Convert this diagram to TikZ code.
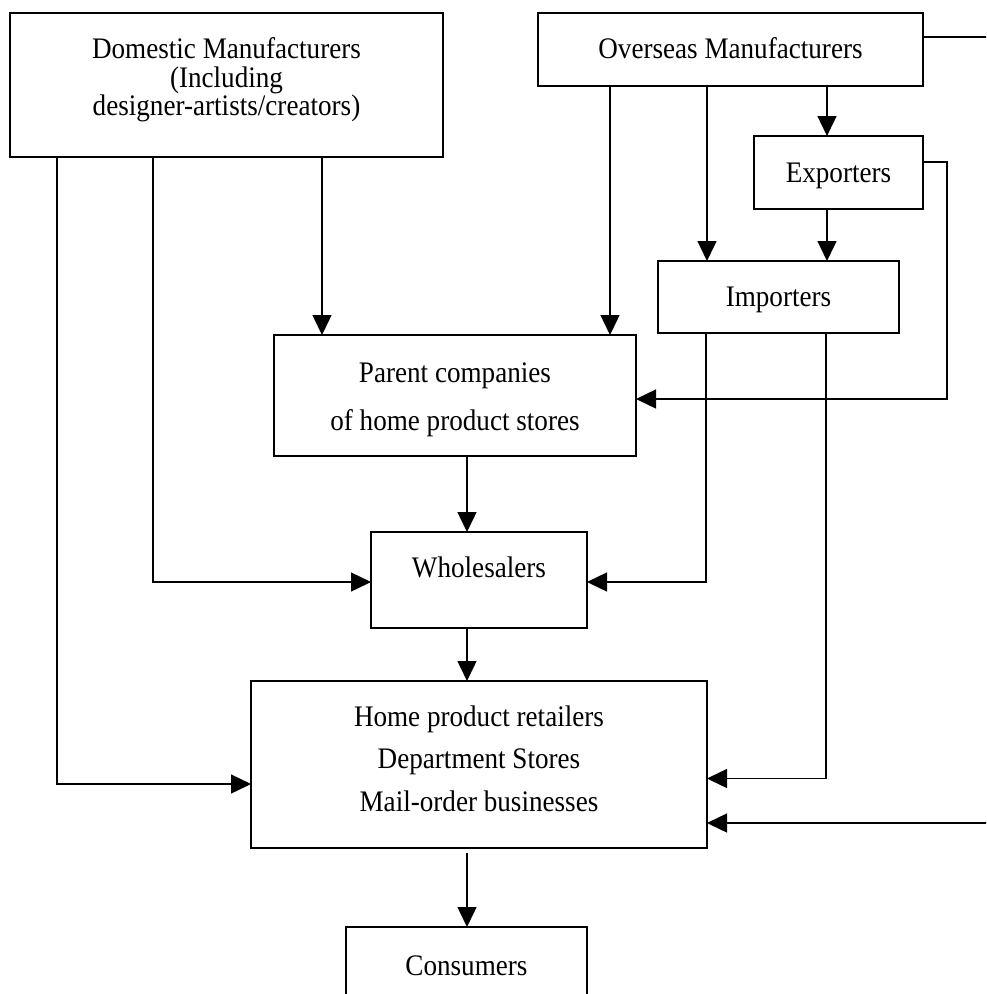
\documentclass[tikz,border=0pt]{standalone}
\usepackage{fontspec}
\setmainfont[FakeStretch=0.91]{Liberation Serif}
\usetikzlibrary{arrows.meta}
\begin{document}
\begin{tikzpicture}[x=1pt,y=-1pt,
  box/.style={draw, line width=1.8pt, inner sep=0pt, outer sep=0pt},
  txt/.style={anchor=base, inner sep=0pt, font=\fontsize{29.8}{29.8}\selectfont},
  arr/.style={line width=1.4pt, -{Triangle[length=20pt,width=19pt]}},
  ln/.style={line width=1.4pt}]
\useasboundingbox (0,0) rectangle (986,994);
\clip (0,0) rectangle (986,994);
% boxes
\node[box, minimum width=433pt, minimum height=144pt] (dom) at (226.5,85) {};
\node[box, minimum width=385pt, minimum height=73pt] (ovs) at (730.5,49.5) {};
\node[box, minimum width=169pt, minimum height=73pt] (exp) at (838.5,172.5) {};
\node[box, minimum width=241pt, minimum height=72pt] (imp) at (778.5,297) {};
\node[box, minimum width=362pt, minimum height=121pt] (par) at (455,395.5) {};
\node[box, minimum width=216pt, minimum height=96pt] (whl) at (479,580) {};
\node[box, minimum width=456pt, minimum height=167pt] (ret) at (479,764.5) {};
\node[box, minimum width=241pt, minimum height=100pt] (con) at (466.5,977) {};
% texts
\node[anchor=north, inner sep=0pt, align=center, font=\fontsize{29.8}{28.5}\selectfont] (domt) at (226.5,37.5)
  {Domestic Manufacturers\\(Including\\designer-artists/creators)};
\node[txt] (ovst) at (730.5,58) {Overseas Manufacturers};
\node[txt] (expt) at (838.5,182) {Exporters};
\node[txt] (impt) at (778.5,306) {Importers};
\node[txt] (part1) at (455,382) {Parent companies};
\node[txt] (part2) at (455,430) {of home product stores};
\node[txt] (whlt) at (479,577) {Wholesalers};
\node[txt] (rett1) at (479,726) {Home product retailers};
\node[txt] (rett2) at (479,768) {Department Stores};
\node[txt] (rett3) at (479,811) {Mail-order businesses};
\node[txt] (cont) at (466.5,975) {Consumers};
% connectors from domestic manufacturers
\draw[arr] ([xshift=312pt]dom.south west) coordinate (d1) -- (d1 |- par.north);
\draw[arr] ([xshift=143pt]dom.south west) |- ([yshift=-2pt]whl.west);
\draw[arr] ([xshift=47pt]dom.south west) |- ([yshift=-19.5pt]ret.west);
% connectors from overseas manufacturers
\draw[arr] ([xshift=72pt]ovs.south west) coordinate (o1) -- (o1 |- par.north);
\draw[arr] ([xshift=169pt]ovs.south west) coordinate (o2) -- (o2 |- imp.north);
\draw[arr] ([xshift=289pt]ovs.south west) coordinate (o3) -- (o3 |- exp.north);
\draw[arr] ([yshift=12.5pt]ovs.east) -- ++(70,0) |- ([yshift=-58.5pt]ret.east);
% exporters
\draw[arr] ([xshift=73pt]exp.south west) coordinate (e1) -- (e1 |- imp.north);
\draw[arr] ([yshift=10.5pt]exp.east) -- ++(24,0) |- ([yshift=-3.5pt]par.east);
% importers
\draw[arr] ([xshift=48pt]imp.south west) |- ([yshift=-2pt]whl.east);
\draw[arr] ([xshift=168pt]imp.south west) |- ([yshift=-14pt]ret.east);
% chain
\draw[arr] ([xshift=193pt]par.south west) coordinate (p1) -- (p1 |- whl.north);
\draw[arr] ([xshift=96pt]whl.south west) coordinate (w1) -- (w1 |- ret.north);
\draw[arr] ([xshift=216pt,yshift=-5pt]ret.south west) coordinate (r1) -- (r1 |- con.north);
\end{tikzpicture}
\end{document}
